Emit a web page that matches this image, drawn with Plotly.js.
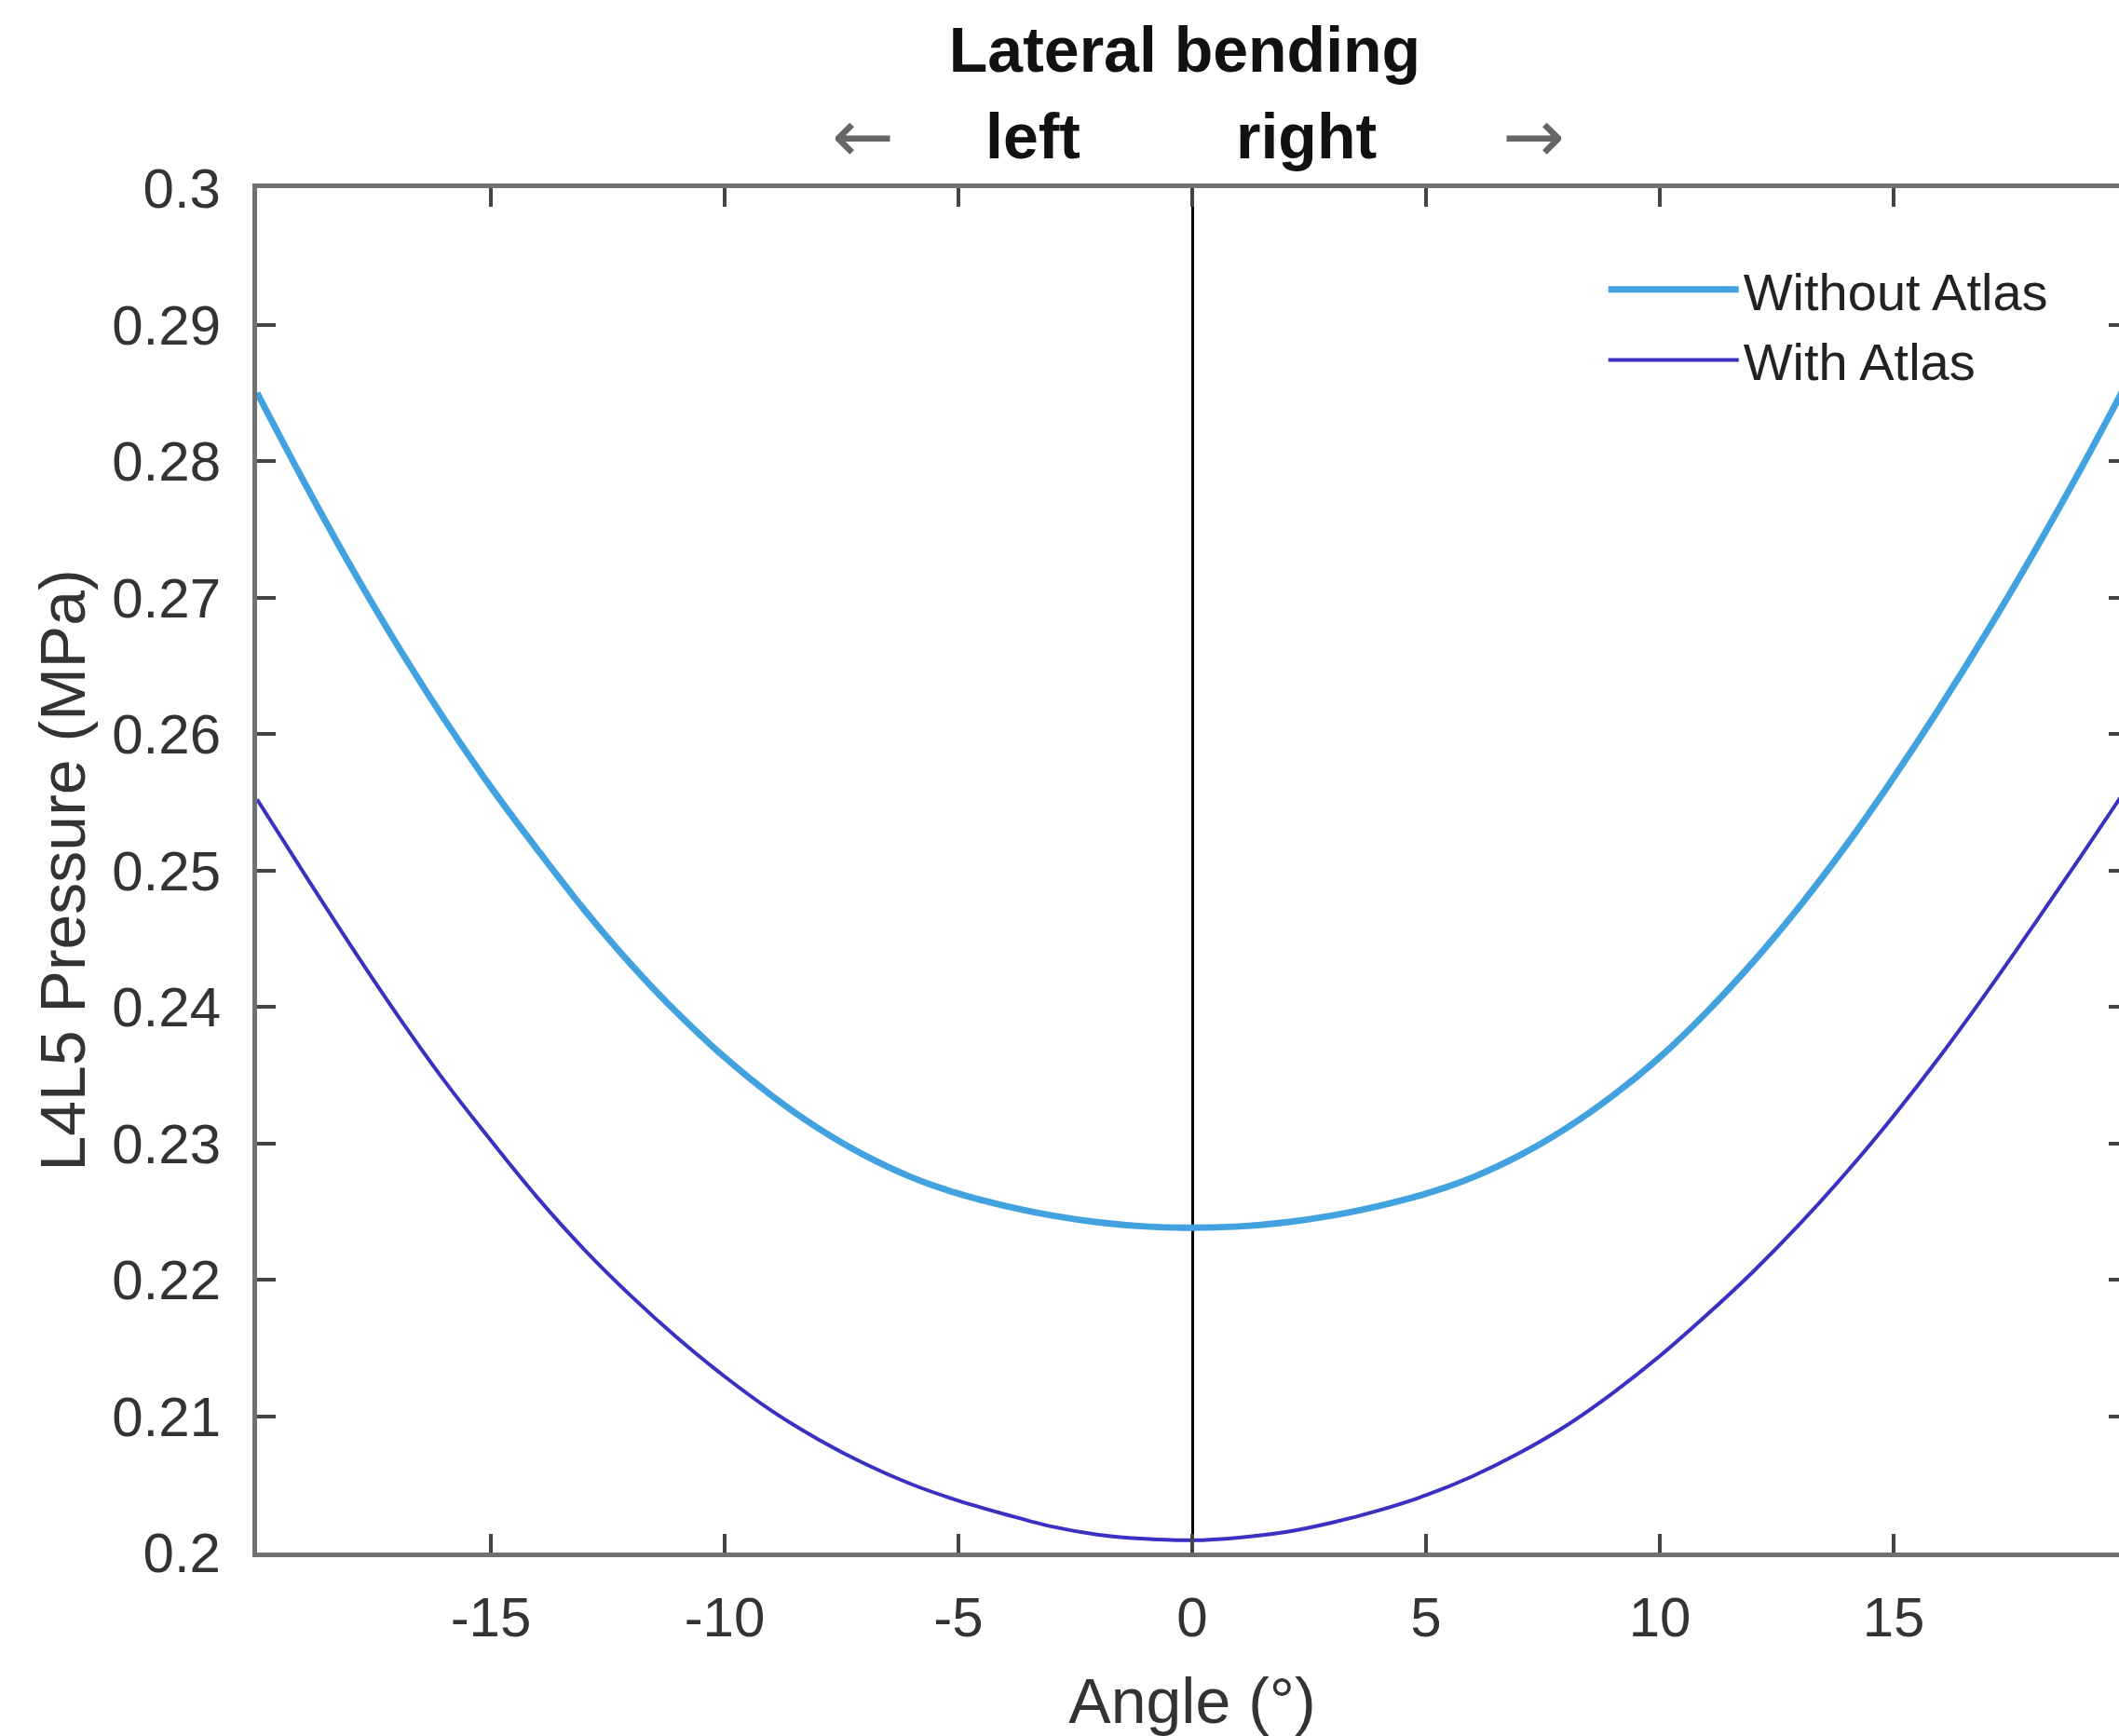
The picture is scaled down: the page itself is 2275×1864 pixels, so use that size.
<!DOCTYPE html>
<html>
<head>
<meta charset="utf-8">
<script src="https://cdn.plot.ly/plotly-3.0.1.min.js"></script>
<style>
  html, body { margin: 0; padding: 0; background: #ffffff; overflow: hidden; }
  #chart { width: 2290px; height: 1864px; }
</style>
</head>
<body>
<div id="chart"></div>
<script>
// Angles (degrees)
const angles = [-20,-19,-18,-17,-16,-15,-14,-13,-12,-11,-10,-9,-8,-7,-6,-5,-4,-3,-2,-1,0,
                1,2,3,4,5,6,7,8,9,10,11,12,13,14,15,16,17,18,19,20];

// L4L5 pressure (MPa) without atlas
const withoutAtlas = [0.2850,0.2785,0.2723,0.2665,0.2611,0.2561,0.2515,0.2471,0.2431,0.2395,0.2363,
                      0.2335,0.2311,0.2291,0.2275,0.2263,0.2254,0.2247,0.2242,0.2239,0.2238,
                      0.2239,0.2242,0.2247,0.2254,0.2263,0.2275,0.2291,0.2311,0.2335,0.2363,
                      0.2396,0.2433,0.2474,0.2519,0.2568,0.2620,0.2675,0.2733,0.2794,0.2858];

// L4L5 pressure (MPa) with atlas
const withAtlas = [0.2552,0.2498,0.2445,0.2394,0.2346,0.2302,0.2260,0.2222,0.2188,0.2157,0.2129,
                   0.2104,0.2083,0.2065,0.2050,0.2038,0.2028,0.2019,0.2013,0.2010,0.2009,
                   0.2011,0.2015,0.2022,0.2031,0.2042,0.2056,0.2073,0.2093,0.2117,0.2144,
                   0.2174,0.2206,0.2241,0.2279,0.2320,0.2364,0.2411,0.2460,0.2510,0.2561];

const seriesNames = ["Without Atlas", "With Atlas"];

const xTickVals = [-15,-10,-5,0,5,10,15];
const xTickLabels = ["-15","-10","-5","0","5","10","15"];
const yTickVals = [0.2,0.21,0.22,0.23,0.24,0.25,0.26,0.27,0.28,0.29,0.3];
const yTickLabels = ["0.2","0.21","0.22","0.23","0.24","0.25","0.26","0.27","0.28","0.29","0.3"];

const titleText = "Lateral bending";
const xTitle = "Angle (°)";
const yTitle = "L4L5 Pressure (MPa)";
const dirLabels = ["←", "left", "right", "→"];
const dirPositions = [-7.05, -3.4, 2.45, 7.3];

const FONT = "Liberation Sans, Arial, sans-serif";

const traces = [
  {
    x: angles, y: withoutAtlas, name: seriesNames[0], type: "scatter", mode: "lines",
    line: { color: "#41a2df", width: 7, shape: "spline", smoothing: 1 }
  },
  {
    x: angles, y: withAtlas, name: seriesNames[1], type: "scatter", mode: "lines",
    line: { color: "#3a31c2", width: 4, shape: "spline", smoothing: 1 }
  }
];

const annotations = dirLabels.map((t, i) => ({
  text: t, x: dirPositions[i], xref: "x", y: 1.038, yref: "paper",
  xanchor: "center", yanchor: "middle", showarrow: false,
  font: (i === 0 || i === 3)
    ? { family: "DejaVu Sans, sans-serif", size: 80, color: "#666666" }
    : { family: FONT, size: 68, color: "#111111", weight: "bold" }
}));

const axisCommon = {
  showgrid: false,
  showline: true,
  linecolor: "#707070",
  linewidth: 5,
  mirror: "ticks",
  ticks: "inside",
  ticklen: 20,
  tickwidth: 4,
  tickcolor: "#444444",
  tickfont: { family: FONT, size: 60, color: "#333333" },
  fixedrange: true
};

const layout = {
  width: 2290,
  height: 1864,
  margin: { l: 276, r: 6, t: 202, b: 197, pad: 0 },
  paper_bgcolor: "#ffffff",
  plot_bgcolor: "#ffffff",
  font: { family: FONT, color: "#222222" },
  title: {
    text: "<b>" + titleText + "</b>",
    font: { family: FONT, size: 68, color: "#111111" },
    xref: "paper", x: 0.496, xanchor: "center",
    yref: "container", y: 0.9715, yanchor: "middle"
  },
  xaxis: Object.assign({}, axisCommon, {
    range: [-20, 20],
    tickvals: xTickVals,
    ticktext: xTickLabels,
    ticklabelstandoff: 13,
    zeroline: true,
    zerolinecolor: "#000000",
    zerolinewidth: 3,
    title: { text: xTitle, font: { family: FONT, size: 68, color: "#333333" }, standoff: 36 }
  }),
  yaxis: Object.assign({}, axisCommon, {
    range: [0.2, 0.3],
    tickvals: yTickVals,
    ticktext: yTickLabels,
    ticklabelstandoff: 22,
    zeroline: false,
    title: { text: yTitle, font: { family: FONT, size: 68, color: "#333333" }, standoff: 8 }
  }),
  showlegend: true,
  legend: {
    x: 0.72, xanchor: "left",
    y: 0.955, yanchor: "top",
    bgcolor: "rgba(0,0,0,0)",
    borderwidth: 0,
    font: { family: FONT, size: 56, color: "#222222" },
    itemwidth: 140,
    tracegroupgap: 0
  },
  annotations: annotations
};

Plotly.newPlot("chart", traces, layout, { staticPlot: true, displayModeBar: false });
</script>
</body>
</html>
